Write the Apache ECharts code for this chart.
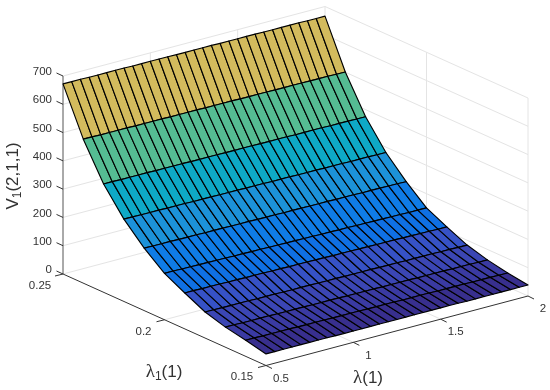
<!DOCTYPE html>
<html>
<head>
<meta charset="utf-8">
<style>html,body{margin:0;padding:0;background:#fff}#chart{width:550px;height:390px}</style>
<script src="https://cdn.jsdelivr.net/npm/echarts@6/dist/echarts.min.js"></script>
</head>
<body>
<div id="chart"></div>
<script>
// ---------- data ----------
const lambdaValues = [0.5,0.55,0.6,0.65,0.7,0.75,0.8,0.85,0.9,0.95,1,1.05,1.1,1.15,1.2,1.25,1.3,1.35,1.4,1.45,1.5,1.55,1.6,1.65,1.7,1.75,1.8,1.85,1.9,1.95,2];
const lambda1Values = [0.25,0.24,0.23,0.22,0.21,0.2,0.19,0.18,0.17,0.16,0.15];
const V_0 = [672,672,672,671,671,671,671,671,670,670,670,670,670,669,669,669,669,669,668,668,668,668,668,667,667,667,667,667,666,666,666];
const V_1 = [509,509,508,508,508,508,507,507,507,507,506,506,506,506,505,505,505,505,504,504,504,504,503,503,503,503,502,502,502,501,501];
const V_2 = [383,383,382,382,382,382,381,381,381,381,380,380,380,380,379,379,379,379,378,378,378,378,377,377,377,377,376,376,376,375,375];
const V_3 = [291,291,290,290,290,289,289,289,288,288,288,287,287,287,286,286,286,285,285,285,284,284,284,283,283,283,282,282,282,281,281];
const V_4 = [221,220,220,220,219,219,219,218,218,218,217,217,217,216,216,216,215,215,215,214,214,214,213,213,213,212,212,212,211,211,210];
const V_5 = [164,164,163,163,162,162,161,161,160,160,159,159,158,158,157,157,156,156,155,155,154,154,153,153,152,152,151,151,150,150,150];
const V_6 = [127,127,126,126,126,125,125,124,124,124,123,123,122,122,122,121,121,120,120,120,119,119,118,118,118,117,117,116,116,115,115];
const V_7 = [92,92,91,91,91,91,90,90,90,89,89,89,89,88,88,88,87,87,87,87,86,86,86,85,85,85,85,84,84,83,83];
const V_8 = [71,71,70,70,70,70,69,69,69,69,68,68,68,68,67,67,67,67,66,66,66,66,65,65,65,65,64,64,64,63,63];
const V_9 = [57,57,56,56,56,56,55,55,55,55,54,54,54,54,53,53,53,53,52,52,52,52,51,51,51,51,50,50,50,49,49];
const V_10 = [41,41,41,41,41,41,41,41,40,40,40,40,40,40,40,40,40,40,40,40,40,40,40,39,39,39,39,39,39,39,39];
const surfaceRows = [V_0,V_1,V_2,V_3,V_4,V_5,V_6,V_7,V_8,V_9,V_10];
const rowColors = ['#D3BB5D','#55BC93','#0EA9C6','#1C92D9','#0F7CE6','#0F70E4','#3652C6','#3B46B4','#3A3AA2','#382F8E'];
const zTicks = [0,100,200,300,400,500,600,700];
const lambdaTicks = [0.5,1,1.5,2];
const lambda1Ticks = [0.25,0.2,0.15];
const lambdaTickLabels = ['0.5','1','1.5','2'];
const lambda1TickLabels = ['0.25','0.2','0.15'];

// ---------- view of the 3D box (orthographic, as read from the box corners) ----------
const L0 = 0.5, L1 = 2, M0 = 0.25, M1 = 0.15, Z1 = 700;
function project(l, m, z) {
  const u = (l - L0) / (L1 - L0), v = (M0 - m) / (M0 - M1), w = z / Z1;
  return [63 + 262 * u + 203 * v, 274 - 69.5 * u + 91.5 * v - 198 * w];
}
const GRID = '#E4E4E4', AXIS = '#333333', TEXT = '#333333', FONT = '"Liberation Sans", Arial, sans-serif';

function seg(a, b, color, width) {
  return { type: 'line', shape: { x1: a[0], y1: a[1], x2: b[0], y2: b[1] }, style: { stroke: color, lineWidth: width || 1, fill: null } };
}
function label(p, dx, dy, text, align) {
  return { type: 'text', x: p[0] + dx, y: p[1] + dy, style: { text: String(text), fill: TEXT, font: '11.5px ' + FONT, align: align || 'center', verticalAlign: 'middle' } };
}
function wallsAndAxes() {
  const c = [];
  // box outline of the walls
  [[L0,M0,Z1,L1,M0,Z1],[L1,M0,Z1,L1,M1,Z1],[L1,M1,Z1,L1,M1,0],[L1,M0,Z1,L1,M0,0],[L0,M0,0,L1,M0,0],[L1,M0,0,L1,M1,0]].forEach(s => {
    c.push(seg(project(s[0],s[1],s[2]), project(s[3],s[4],s[5]), GRID));
  });
  zTicks.forEach(z => {
    if (z === 0 || z === Z1) return;
    c.push(seg(project(L0,M0,z), project(L1,M0,z), GRID));
    c.push(seg(project(L1,M0,z), project(L1,M1,z), GRID));
  });
  lambdaTicks.slice(1,-1).forEach(l => {
    c.push(seg(project(l,M0,0), project(l,M0,Z1), GRID));
    c.push(seg(project(l,M0,0), project(l,M1,0), GRID));
  });
  lambda1Ticks.slice(1,-1).forEach(m => {
    c.push(seg(project(L0,m,0), project(L1,m,0), GRID));
    c.push(seg(project(L1,m,0), project(L1,m,Z1), GRID));
  });
  // axes
  c.push(seg(project(L0,M0,0), project(L0,M0,Z1), '#555555'));
  c.push(seg(project(L0,M0,0), project(L0,M1,0), AXIS));
  c.push(seg(project(L0,M1,0), project(L1,M1,0), AXIS));
  // ticks
  zTicks.forEach(z => {
    const p = project(L0,M0,z);
    c.push(seg(p, [p[0] - 6.5, p[1] - 3], AXIS));
    c.push(label(p, -11, -4, z, 'right'));
  });
  lambda1Ticks.forEach((m, i) => {
    const p = project(L0,m,0);
    c.push(seg(p, [p[0] - 8, p[1] + 2], AXIS));
    const q = [[-23,12],[-21,12.5],[-24,11]][i];
    c.push(label(p, q[0], q[1], lambda1TickLabels[i]));
  });
  lambdaTicks.forEach((l, i) => {
    const p = project(l,M1,0);
    c.push(seg(p, [p[0] + 6, p[1] + 3], AXIS));
    c.push(label(p, 15, 13, lambdaTickLabels[i]));
  });
  return { type: 'group', children: c };
}
function axisNames() {
  const rich = {
    g: { font: '19px "Liberation Serif", serif', fill: TEXT },
    t: { font: '17px ' + FONT, fill: TEXT },
    s: { font: '12px ' + FONT, fill: TEXT, verticalAlign: 'bottom', padding: [9,0,0,0] }
  };
  return { type: 'group', children: [
    { type: 'text', x: 164, y: 372, style: { text: '{g|λ}{s|1}{t|(1)}', rich, align: 'center', verticalAlign: 'middle' } },
    { type: 'text', x: 368, y: 378, style: { text: '{g|λ}{t|(1)}', rich, align: 'center', verticalAlign: 'middle' } },
    { type: 'text', x: 13, y: 176, rotation: Math.PI / 2, originX: 0, originY: 0, style: { text: '{t|V}{s|1}{t|(2,1,1)}', rich, align: 'center', verticalAlign: 'middle' } }
  ]};
}
const cells = [];
for (let i = 0; i < lambda1Values.length - 1; i++)
  for (let j = 0; j < lambdaValues.length - 1; j++) cells.push([j, i]);

const chart = echarts.init(document.getElementById('chart'), null, { renderer: 'canvas' });
chart.setOption({
  animation: false,
  backgroundColor: '#ffffff',
  series: [
    { type: 'custom', coordinateSystem: 'none', silent: true, z: 1, data: [0], renderItem: wallsAndAxes },
    { type: 'custom', coordinateSystem: 'none', silent: true, z: 2, data: cells,
      renderItem(params, api) {
        const j = api.value(0), i = api.value(1);
        const corner = (a, b) => project(lambdaValues[a], lambda1Values[b], surfaceRows[b][a]);
        return { type: 'polygon',
          shape: { points: [corner(j,i), corner(j+1,i), corner(j+1,i+1), corner(j,i+1)] },
          style: { fill: rowColors[i], stroke: '#000000', lineWidth: 1.15, lineJoin: 'round' } };
      } },
    { type: 'custom', coordinateSystem: 'none', silent: true, z: 3, data: [0], renderItem: axisNames }
  ]
});
</script>
</body>
</html>
